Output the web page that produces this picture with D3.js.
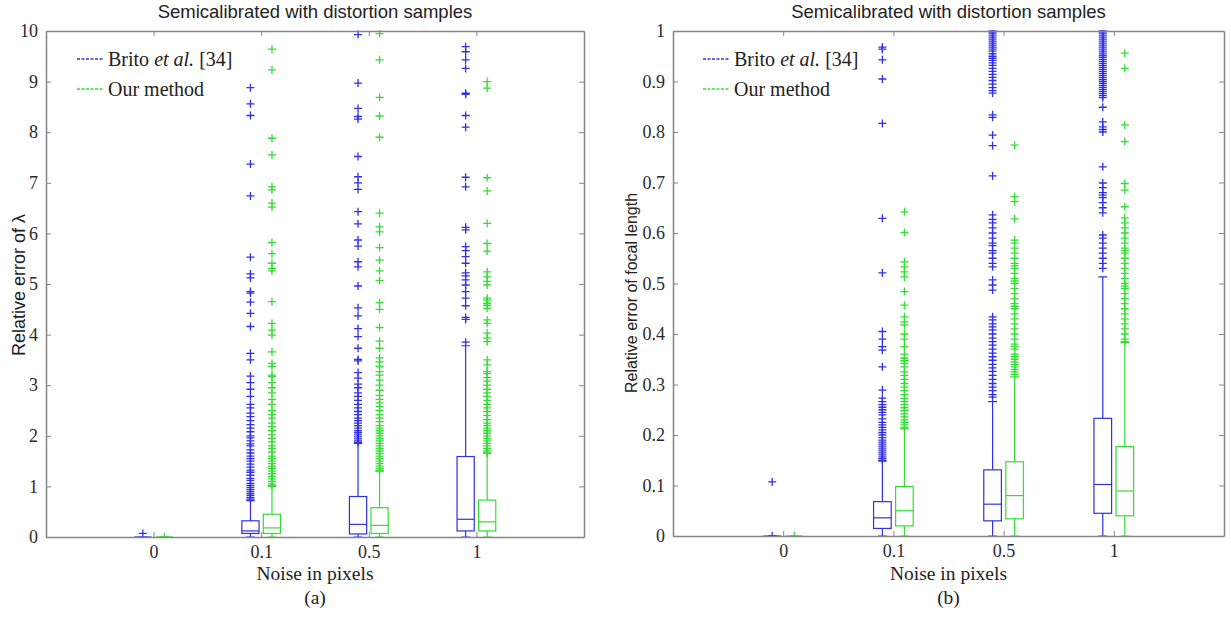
<!DOCTYPE html>
<html lang="en">
<head>
<meta charset="UTF-8">
<title>Semicalibrated with distortion samples</title>
<style>
  body { margin: 0; background: #fff; }
  svg text { fill: #222; }
  .tick text { font-family: "Liberation Serif", "Times New Roman", serif; font-size: 18px; fill: #2a2a2a; }
  .tick line, .domain { stroke: #858585; }
</style>
</head>
<body>
<svg id="chart" width="1231" height="618"></svg>
<script src="https://d3js.org/d3.v7.min.js"></script>
<script>
// categories and tick labels
const noiseLevels = ["0", "0.1", "0.5", "1"];
const lambdaTicks = [0, 1, 2, 3, 4, 5, 6, 7, 8, 9, 10];
const focalTicks = [0, 0.1, 0.2, 0.3, 0.4, 0.5, 0.6, 0.7, 0.8, 0.9, 1];
const seriesNames = ["Brito", "Our method"];

// box stats per noise level: [whisker low, q1, median, q3, whisker high]
const lambdaBritoBox = [[0, 0, 0, 0, 0], [0, 0.07, 0.12, 0.32, 0.72], [0, 0.06, 0.25, 0.80, 1.85], [0, 0.12, 0.35, 1.59, 3.78]];
const lambdaOursBox = [[0, 0, 0, 0, 0], [0, 0.07, 0.18, 0.45, 1.0], [0, 0.07, 0.23, 0.58, 1.3], [0, 0.12, 0.30, 0.73, 1.65]];
const focalBritoBox = [[0, 0, 0, 0, 0], [0, 0.015, 0.036, 0.068, 0.148], [0, 0.03, 0.063, 0.131, 0.266], [0, 0.045, 0.102, 0.233, 0.513]];
const focalOursBox = [[0, 0, 0, 0, 0], [0, 0.02, 0.05, 0.098, 0.212], [0, 0.034, 0.08, 0.147, 0.315], [0, 0.04, 0.089, 0.177, 0.383]];

// outliers per noise level
const lambdaBritoOut = [
  [0.07],
  [8.88, 8.56, 8.33, 7.37, 6.74, 5.53, 5.2, 5.12, 4.85, 4.82, 4.64, 4.42, 4.16, 3.63, 3.5, 3.18, 3.05, 2.92, 2.78, 2.62, 2.55, 2.45, 2.38, 2.3, 2.22, 2.15, 2.08, 2.0, 1.96, 1.9, 1.84, 1.8, 1.72, 1.66, 1.6, 1.55, 1.5, 1.44, 1.38, 1.32, 1.28, 1.22, 1.16, 1.12, 1.06, 1.02, 0.98, 0.94, 0.9, 0.86, 0.82, 0.78, 0.75],
  [9.93, 8.97, 8.47, 8.31, 8.26, 7.52, 7.12, 7.0, 6.87, 6.43, 6.19, 5.87, 5.75, 5.44, 5.34, 4.96, 4.53, 4.37, 4.12, 3.96, 3.73, 3.51, 3.48, 3.25, 3.14, 3.02, 2.95, 2.85, 2.78, 2.7, 2.62, 2.55, 2.48, 2.42, 2.35, 2.3, 2.25, 2.2, 2.15, 2.1, 2.06, 2.02, 1.98, 1.94, 1.9, 1.87],
  [9.69, 9.59, 9.43, 9.26, 8.77, 8.75, 8.33, 8.1, 7.11, 6.92, 6.12, 6.07, 5.74, 5.66, 5.54, 5.41, 5.22, 5.16, 5.08, 4.98, 4.85, 4.72, 4.57, 4.34, 4.3, 3.85]
];
const lambdaOursOut = [
  [0.0],
  [9.64, 9.23, 7.88, 7.55, 6.92, 6.86, 6.6, 6.52, 5.82, 5.6, 5.41, 5.31, 5.26, 4.65, 4.22, 4.09, 3.99, 3.66, 3.43, 3.37, 3.2, 3.17, 3.05, 2.95, 2.85, 2.72, 2.62, 2.5, 2.42, 2.35, 2.25, 2.18, 2.1, 2.02, 1.95, 1.88, 1.8, 1.75, 1.68, 1.6, 1.55, 1.5, 1.45, 1.4, 1.35, 1.3, 1.25, 1.2, 1.15, 1.1, 1.05, 1.02],
  [9.95, 9.43, 8.69, 8.32, 7.9, 6.4, 6.13, 6.03, 5.72, 5.47, 5.26, 5.07, 4.63, 4.5, 4.14, 3.87, 3.73, 3.54, 3.46, 3.37, 3.27, 3.2, 3.1, 3.0, 2.9, 2.8, 2.72, 2.65, 2.58, 2.5, 2.42, 2.35, 2.28, 2.2, 2.15, 2.1, 2.05, 2.0, 1.95, 1.9, 1.85, 1.8, 1.75, 1.7, 1.65, 1.6, 1.55, 1.5, 1.45, 1.4, 1.35, 1.31],
  [9.0, 8.87, 7.1, 6.84, 6.2, 5.8, 5.65, 5.24, 5.14, 5.05, 4.98, 4.72, 4.68, 4.62, 4.58, 4.52, 4.29, 4.22, 4.03, 3.93, 3.86, 3.5, 3.4, 3.27, 3.23, 3.15, 3.08, 3.0, 2.92, 2.85, 2.78, 2.7, 2.62, 2.55, 2.48, 2.4, 2.32, 2.25, 2.2, 2.15, 2.1, 2.05, 2.0, 1.95, 1.9, 1.85, 1.8, 1.75, 1.7, 1.66]
];
const focalBritoOut = [
  [0.107, 0.0],
  [0.968, 0.964, 0.943, 0.905, 0.817, 0.629, 0.521, 0.405, 0.39, 0.375, 0.368, 0.335, 0.289, 0.273, 0.266, 0.26, 0.255, 0.25, 0.245, 0.24, 0.232, 0.225, 0.22, 0.215, 0.21, 0.205, 0.2, 0.195, 0.19, 0.186, 0.182, 0.178, 0.174, 0.17, 0.166, 0.162, 0.158, 0.154, 0.15],
  [1.0, 0.996, 0.992, 0.988, 0.984, 0.98, 0.976, 0.972, 0.968, 0.964, 0.96, 0.955, 0.95, 0.946, 0.942, 0.937, 0.932, 0.926, 0.92, 0.914, 0.908, 0.902, 0.895, 0.888, 0.882, 0.877, 0.834, 0.829, 0.794, 0.773, 0.713, 0.636, 0.627, 0.62, 0.61, 0.6, 0.59, 0.58, 0.575, 0.565, 0.56, 0.55, 0.54, 0.533, 0.507, 0.497, 0.487, 0.434, 0.428, 0.42, 0.414, 0.408, 0.4, 0.392, 0.385, 0.378, 0.37, 0.362, 0.355, 0.348, 0.34, 0.333, 0.326, 0.318, 0.31, 0.302, 0.295, 0.288, 0.28, 0.275],
  [1.0, 0.996, 0.992, 0.988, 0.984, 0.98, 0.976, 0.972, 0.968, 0.964, 0.96, 0.956, 0.952, 0.948, 0.944, 0.94, 0.936, 0.932, 0.928, 0.924, 0.92, 0.916, 0.912, 0.908, 0.904, 0.9, 0.896, 0.892, 0.888, 0.884, 0.88, 0.876, 0.872, 0.868, 0.849, 0.82, 0.81, 0.805, 0.8, 0.731, 0.699, 0.69, 0.68, 0.675, 0.67, 0.66, 0.65, 0.64, 0.596, 0.59, 0.58, 0.57, 0.56, 0.55, 0.54, 0.53]
];
const focalOursOut = [
  [0.0],
  [0.642, 0.601, 0.543, 0.533, 0.523, 0.513, 0.484, 0.457, 0.434, 0.424, 0.418, 0.4, 0.39, 0.375, 0.36, 0.352, 0.347, 0.342, 0.335, 0.325, 0.318, 0.31, 0.302, 0.295, 0.288, 0.28, 0.272, 0.266, 0.26, 0.254, 0.248, 0.242, 0.236, 0.23, 0.225, 0.22, 0.215],
  [0.774, 0.672, 0.662, 0.628, 0.586, 0.58, 0.57, 0.56, 0.55, 0.54, 0.535, 0.53, 0.52, 0.51, 0.505, 0.5, 0.49, 0.48, 0.47, 0.46, 0.455, 0.45, 0.44, 0.43, 0.42, 0.41, 0.4, 0.39, 0.38, 0.375, 0.37, 0.36, 0.355, 0.35, 0.345, 0.34, 0.335, 0.33, 0.325, 0.32],
  [0.956, 0.926, 0.814, 0.781, 0.698, 0.685, 0.652, 0.63, 0.62, 0.61, 0.6, 0.59, 0.58, 0.57, 0.565, 0.56, 0.55, 0.54, 0.53, 0.52, 0.51, 0.5, 0.495, 0.49, 0.48, 0.47, 0.46, 0.45, 0.44, 0.43, 0.42, 0.41, 0.4, 0.39, 0.385]
];

const BLUE = '#3030e8';
const GREEN = '#33de33';
const SERIF = '"Liberation Serif", "Times New Roman", serif';
const SANS = '"Liberation Sans", Arial, sans-serif';

const svg = d3.select('#chart');
svg.append('rect').attr('width', 1231).attr('height', 618).attr('fill', '#fff');

function drawPanel(p) {
  const x = d3.scaleLinear().domain([0, 5]).range([p.left, p.right]);
  const y = d3.scaleLinear().domain([0, p.yMax]).range([p.bottom, p.top]);
  const g = svg.append('g');

  g.append('clipPath').attr('id', p.id + '-clip')
    .append('rect')
    .attr('x', p.left).attr('y', p.top - 1)
    .attr('width', p.right - p.left).attr('height', p.bottom - p.top + 1);

  const plot = g.append('g').attr('clip-path', `url(#${p.id}-clip)`);

  const boxW = 0.16;
  const series = [
    { name: seriesNames[0], box: p.brito, out: p.britoOut, color: BLUE, offset: -0.1 },
    { name: seriesNames[1], box: p.ours, out: p.oursOut, color: GREEN, offset: 0.1 }
  ];

  series.forEach(s => {
    const sg = plot.append('g').attr('stroke', s.color).attr('fill', 'none').attr('stroke-width', 1.2);
    const cx = i => x(i + 1 + s.offset);
    const hw = (x(boxW) - x(0)) / 2;

    // whiskers
    sg.selectAll('line.wlo').data(s.box).join('line').attr('class', 'wlo')
      .attr('x1', (d, i) => cx(i)).attr('x2', (d, i) => cx(i))
      .attr('y1', d => y(d[0])).attr('y2', d => y(d[1]));
    sg.selectAll('line.whi').data(s.box).join('line').attr('class', 'whi')
      .attr('x1', (d, i) => cx(i)).attr('x2', (d, i) => cx(i))
      .attr('y1', d => y(d[3])).attr('y2', d => y(d[4]));
    // caps
    sg.selectAll('path.cap').data(s.box).join('path').attr('class', 'cap')
      .attr('d', (d, i) => `M${cx(i) - hw / 2},${y(d[0])}H${cx(i) + hw / 2}M${cx(i) - hw / 2},${y(d[4])}H${cx(i) + hw / 2}`);
    // boxes
    sg.selectAll('rect.box').data(s.box).join('rect').attr('class', 'box')
      .attr('x', (d, i) => cx(i) - hw).attr('width', 2 * hw)
      .attr('y', d => y(d[3])).attr('height', d => y(d[1]) - y(d[3]));
    // medians
    sg.selectAll('line.med').data(s.box).join('line').attr('class', 'med')
      .attr('x1', (d, i) => cx(i) - hw).attr('x2', (d, i) => cx(i) + hw)
      .attr('y1', d => y(d[2])).attr('y2', d => y(d[2]));
    // outliers
    const pts = s.out.flatMap((vals, i) => vals.map(v => ({ i, v })));
    sg.selectAll('path.out').data(pts).join('path').attr('class', 'out')
      .attr('stroke-width', 1.3)
      .attr('d', d => {
        const px = cx(d.i), py = y(d.v);
        return `M${px - 4},${py}H${px + 4}M${px},${py - 4}V${py + 4}`;
      });
  });

  // axes with inward ticks, box on
  g.append('g').attr('transform', `translate(0,${p.bottom})`)
    .call(d3.axisBottom(x).tickValues([1, 2, 3, 4]).tickFormat(d => noiseLevels[d - 1]).tickSizeInner(-5).tickSizeOuter(0).tickPadding(8));
  g.append('g').attr('transform', `translate(0,${p.top})`)
    .call(d3.axisTop(x).tickValues([1, 2, 3, 4]).tickFormat('').tickSizeInner(-5).tickSizeOuter(0));
  g.append('g').attr('transform', `translate(${p.left},0)`)
    .call(d3.axisLeft(y).tickValues(p.ticks).tickFormat(d3.format(p.fmt)).tickSizeInner(-5).tickSizeOuter(0).tickPadding(8));
  g.append('g').attr('transform', `translate(${p.right},0)`)
    .call(d3.axisRight(y).tickValues(p.ticks).tickFormat('').tickSizeInner(-5).tickSizeOuter(0));
  g.selectAll('.domain').attr('stroke-width', 1.5);

  const midX = (p.left + p.right) / 2;
  g.append('text').style('font-family', SANS).style('font-size', '18.5px')
    .attr('x', midX).attr('y', 18).attr('text-anchor', 'middle')
    .text('Semicalibrated with distortion samples');
  g.append('text').style('font-family', SERIF).style('font-size', '19.5px')
    .attr('x', midX).attr('y', 580).attr('text-anchor', 'middle').text('Noise in pixels');
  g.append('text').style('font-family', SERIF).style('font-size', '19.5px')
    .attr('x', midX).attr('y', 604).attr('text-anchor', 'middle').text(p.tag);
  g.append('text').style('font-family', SANS).style('font-size', p.ylabSize + 'px')
    .attr('transform', `translate(${p.ylabX},${p.ylabY}) rotate(-90)`)
    .attr('text-anchor', 'middle').text(p.ylabel);

  // legend
  const leg = g.append('g').attr('transform', `translate(${p.legX},59)`);
  series.forEach((s, k) => {
    leg.append('line').attr('x1', 0).attr('x2', 27).attr('y1', k * 30).attr('y2', k * 30)
      .attr('stroke', s.color).attr('stroke-width', 1.3).attr('stroke-dasharray', '3,1.5');
    const t = leg.append('text').style('font-family', SERIF).style('font-size', '20px')
      .attr('x', 31).attr('y', k * 30 + 6.5);
    if (k === 0) {
      t.append('tspan').text('Brito ');
      t.append('tspan').attr('font-style', 'italic').text('et al.');
      t.append('tspan').text(' [34]');
    } else {
      t.text(s.name);
    }
  });
}

drawPanel({
  id: 'lam', left: 46, right: 584, top: 31, bottom: 537, yMax: 10,
  ticks: lambdaTicks, fmt: 'd', tag: '(a)', ylabel: 'Relative error of λ', ylabSize: 18, ylabX: 25, ylabY: 285, legX: 77,
  brito: lambdaBritoBox, ours: lambdaOursBox, britoOut: lambdaBritoOut, oursOut: lambdaOursOut
});
drawPanel({
  id: 'foc', left: 673, right: 1224, top: 31, bottom: 536, yMax: 1,
  ticks: focalTicks, fmt: '~g', tag: '(b)', ylabel: 'Relative error of focal length', ylabSize: 16, ylabX: 637, ylabY: 293, legX: 703,
  brito: focalBritoBox, ours: focalOursBox, britoOut: focalBritoOut, oursOut: focalOursOut
});
</script>
</body>
</html>
